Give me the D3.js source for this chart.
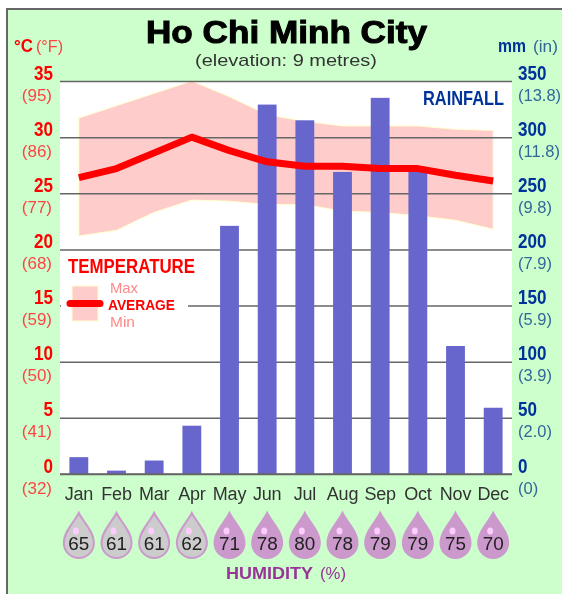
<!DOCTYPE html>
<html>
<head>
<meta charset="utf-8">
<script src="https://cdn.jsdelivr.net/npm/d3@7"></script>
<style>
  html, body { margin: 0; padding: 0; background: #fff; }
  svg { display: block; filter: blur(0.45px); font-family: "Liberation Sans", Arial, sans-serif; }
</style>
</head>
<body>
<div id="chart"></div>
<script>
const months = ['Jan','Feb','Mar','Apr','May','Jun','Jul','Aug','Sep','Oct','Nov','Dec'];
const rainfall = [15, 3, 12, 43, 221, 329, 315, 269, 335, 269, 114, 59];
const tempMax = [31.7, 32.8, 33.9, 35, 33.6, 32, 31.4, 31, 31, 31, 30.7, 30.6];
const tempAvg = [26.4, 27.2, 28.6, 30, 28.8, 27.8, 27.4, 27.4, 27.2, 27.2, 26.6, 26.1];
const tempMin = [21.2, 21.7, 23.3, 24.4, 24.3, 24, 24, 23.4, 23.3, 23, 22.6, 21.8];
const humidity = [65, 61, 61, 62, 71, 78, 80, 78, 79, 79, 75, 70];
const celsiusTicks = [0, 5, 10, 15, 20, 25, 30, 35];
const fahrenheitLabels = ['(32)', '(41)', '(50)', '(59)', '(68)', '(77)', '(86)', '(95)'];
const rainTicks = [0, 50, 100, 150, 200, 250, 300, 350];
const inchLabels = ['(0)', '(2.0)', '(3.9)', '(5.9)', '(7.9)', '(9.8)', '(11.8)', '(13.8)'];

const width = 562, height = 594;
const plot = { left: 60, right: 512, top: 81, bottom: 474 };
const fontFamily = '"Liberation Sans", Arial, sans-serif';

const svg = d3.select('#chart').append('svg')
  .attr('width', width)
  .attr('height', height);

// Card background and frame
svg.append('rect').attr('x', 7).attr('y', 9).attr('width', width).attr('height', height)
  .attr('fill', '#ccffcc').attr('stroke', '#666').attr('stroke-width', 2);

const x = d3.scaleBand().domain(months).range([plot.left, plot.right]).paddingInner(0.5).paddingOuter(0.25);
const mid = function(m) { return x(m) + x.bandwidth() / 2; };
const yTemp = d3.scaleLinear().domain([0, 35]).range([plot.bottom, plot.top]);
const yRain = d3.scaleLinear().domain([0, 350]).range([plot.bottom, plot.top]);
const dropFill = d3.scaleThreshold().domain([70]).range(['#cccccc', '#cc99cc']);

svg.append('rect')
  .attr('x', plot.left).attr('y', plot.top)
  .attr('width', plot.right - plot.left).attr('height', plot.bottom - plot.top)
  .attr('fill', '#fff');

// Max-min band
const band = d3.area()
  .x(function(d) { return mid(d); })
  .y0(function(d, i) { return yTemp(tempMin[i]); })
  .y1(function(d, i) { return yTemp(tempMax[i]); });

svg.append('path')
  .attr('d', band(months))
  .attr('fill', '#ffcccc')
  .attr('stroke', '#ffffcc')
  .attr('stroke-width', 1);

// Grid lines come from the left axis ticks
const gridAxis = svg.append('g')
  .attr('transform', 'translate(' + plot.left + ',0)')
  .call(d3.axisRight(yTemp).tickValues(celsiusTicks).tickSize(plot.right - plot.left).tickFormat(''));
gridAxis.select('.domain').remove();
gridAxis.selectAll('.tick line').attr('stroke', '#666').attr('stroke-width', 1.5);

// Legend sits on a white patch that hides the grid line
svg.append('rect').attr('x', 61).attr('y', 255).attr('width', 127).attr('height', 75).attr('fill', '#fff');
svg.append('rect').attr('x', 72).attr('y', 286).attr('width', 26).attr('height', 35)
  .attr('fill', '#ffcccc').attr('stroke', '#ffffcc').attr('stroke-width', 1);
svg.append('line').attr('x1', 70).attr('x2', 100).attr('y1', 303.5).attr('y2', 303.5)
  .attr('stroke', '#ff0000').attr('stroke-width', 7).attr('stroke-linecap', 'round');

// Text helper, fit is the pixel width
function label(text, px, py, size, color, weight, anchor, fit) {
  const t = svg.append('text')
    .attr('x', px).attr('y', py)
    .attr('font-size', size)
    .attr('font-weight', weight || 'normal')
    .attr('fill', color)
    .attr('text-anchor', anchor || 'start')
    .text(text);
  if (fit) t.attr('textLength', fit).attr('lengthAdjust', 'spacingAndGlyphs');
  return t;
}

label('TEMPERATURE', 68, 273, 19.5, '#ff0000', 'bold', 'start', 127);
label('Max', 110, 293, 15, '#ff8888', 'normal', 'start', 28);
label('AVERAGE', 108, 310, 15, '#ff0000', 'bold', 'start', 67);
label('Min', 110, 327, 15, '#ff8888', 'normal', 'start', 25);
label('RAINFALL', 423, 105, 20, '#003399', 'bold', 'start', 81);

// Rainfall bars
svg.selectAll('.rain-bar')
  .data(months)
  .enter()
  .append('rect')
    .attr('class', 'rain-bar')
    .attr('x', function(d) { return x(d); })
    .attr('y', function(d, i) { return yRain(rainfall[i]); })
    .attr('width', x.bandwidth())
    .attr('height', function(d, i) { return plot.bottom - yRain(rainfall[i]); })
    .attr('fill', '#6666cc');

// Average temperature
const avgLine = d3.line()
  .x(function(d) { return mid(d); })
  .y(function(d, i) { return yTemp(tempAvg[i]); });

svg.append('path')
  .attr('d', avgLine(months))
  .attr('fill', 'none')
  .attr('stroke', '#ff0000')
  .attr('stroke-width', 7)
  .attr('stroke-linejoin', 'round');

// Axis line along the bottom
svg.append('line')
  .attr('x1', plot.left).attr('x2', plot.right)
  .attr('y1', plot.bottom).attr('y2', plot.bottom)
  .attr('stroke', '#666').attr('stroke-width', 1.5);

// Temperature labels
const leftAxis = svg.append('g')
  .attr('transform', 'translate(53,0)')
  .call(d3.axisLeft(yTemp).tickValues(celsiusTicks).tickSize(0).tickPadding(0));
leftAxis.select('.domain').remove();
leftAxis.selectAll('.tick text')
  .attr('y', -2).attr('dy', 0)
  .attr('fill', '#ff0000')
  .attr('font-family', fontFamily)
  .attr('font-size', 20)
  .attr('font-weight', 'bold')
  .attr('textLength', function(d) { return String(d).length * 9.5; })
  .attr('lengthAdjust', 'spacingAndGlyphs');
leftAxis.selectAll('.tick').append('text')
  .attr('y', 19).attr('x', -1)
  .attr('text-anchor', 'end')
  .attr('fill', '#ff4444')
  .attr('font-family', fontFamily)
  .attr('font-size', 17)
  .text(function(d) { return fahrenheitLabels[celsiusTicks.indexOf(d)]; });

// Rainfall labels
const rightAxis = svg.append('g')
  .attr('transform', 'translate(518,0)')
  .call(d3.axisRight(yRain).tickValues(rainTicks).tickSize(0).tickPadding(0));
rightAxis.select('.domain').remove();
rightAxis.selectAll('.tick text')
  .attr('y', -2).attr('dy', 0)
  .attr('fill', '#003399')
  .attr('font-family', fontFamily)
  .attr('font-size', 20)
  .attr('font-weight', 'bold')
  .attr('textLength', function(d) { return String(d).length * 9.5; })
  .attr('lengthAdjust', 'spacingAndGlyphs');
rightAxis.selectAll('.tick').append('text')
  .attr('y', 19)
  .attr('fill', '#336699')
  .attr('font-family', fontFamily)
  .attr('font-size', 16.5)
  .text(function(d) { return inchLabels[rainTicks.indexOf(d)]; });

// Month labels
const monthAxis = svg.append('g')
  .attr('transform', 'translate(0,500)')
  .call(d3.axisBottom(x).tickSize(0).tickPadding(0));
monthAxis.select('.domain').remove();
monthAxis.selectAll('.tick text')
  .attr('y', 0).attr('dy', 0)
  .attr('fill', '#333')
  .attr('font-family', fontFamily)
  .attr('font-size', 18)
  .attr('letter-spacing', -0.2);

// Humidity drops
const drops = svg.selectAll('.drop')
  .data(months)
  .enter()
  .append('g')
    .attr('class', 'drop')
    .attr('transform', function(d) { return 'translate(' + mid(d) + ',543)'; });

drops.append('path')
  .attr('d', 'M0,-30 C3,-23 15,-12 15,0 A15,15 0 0 1 -15,0 C-15,-12 -3,-23 0,-30 Z')
  .attr('fill', function(d, i) { return dropFill(humidity[i]); })
  .attr('stroke', '#cc99cc')
  .attr('stroke-width', 2);

drops.append('ellipse')
  .attr('cx', -3).attr('cy', -12).attr('rx', 3).attr('ry', 3.5)
  .attr('fill', '#ffccff');

drops.append('text')
  .attr('y', 7)
  .attr('text-anchor', 'middle')
  .attr('font-size', 18)
  .attr('textLength', 21)
  .attr('lengthAdjust', 'spacingAndGlyphs')
  .attr('fill', '#222')
  .text(function(d, i) { return humidity[i]; });

// Titles
label('Ho Chi Minh City', 286.5, 43, 31, '#000', 'bold', 'middle', 281)
  .attr('stroke', '#000').attr('stroke-width', 1);
label('(elevation: 9 metres)', 286, 66, 17, '#333', 'normal', 'middle', 182);
label('°C', 14, 52, 18, '#ff0000', 'bold', 'start', 19);
label('(°F)', 36, 52, 17, '#ff4444', 'normal', 'start', 27);
label('mm', 498, 52, 18, '#003399', 'bold', 'start', 28);
label('(in)', 533, 52, 17, '#336699', 'normal', 'start', 25);
label('HUMIDITY', 226, 579, 17, '#993399', 'bold', 'start', 87);
label('(%)', 320, 579, 17, '#993399', 'normal', 'start', 26);
</script>
</body>
</html>
